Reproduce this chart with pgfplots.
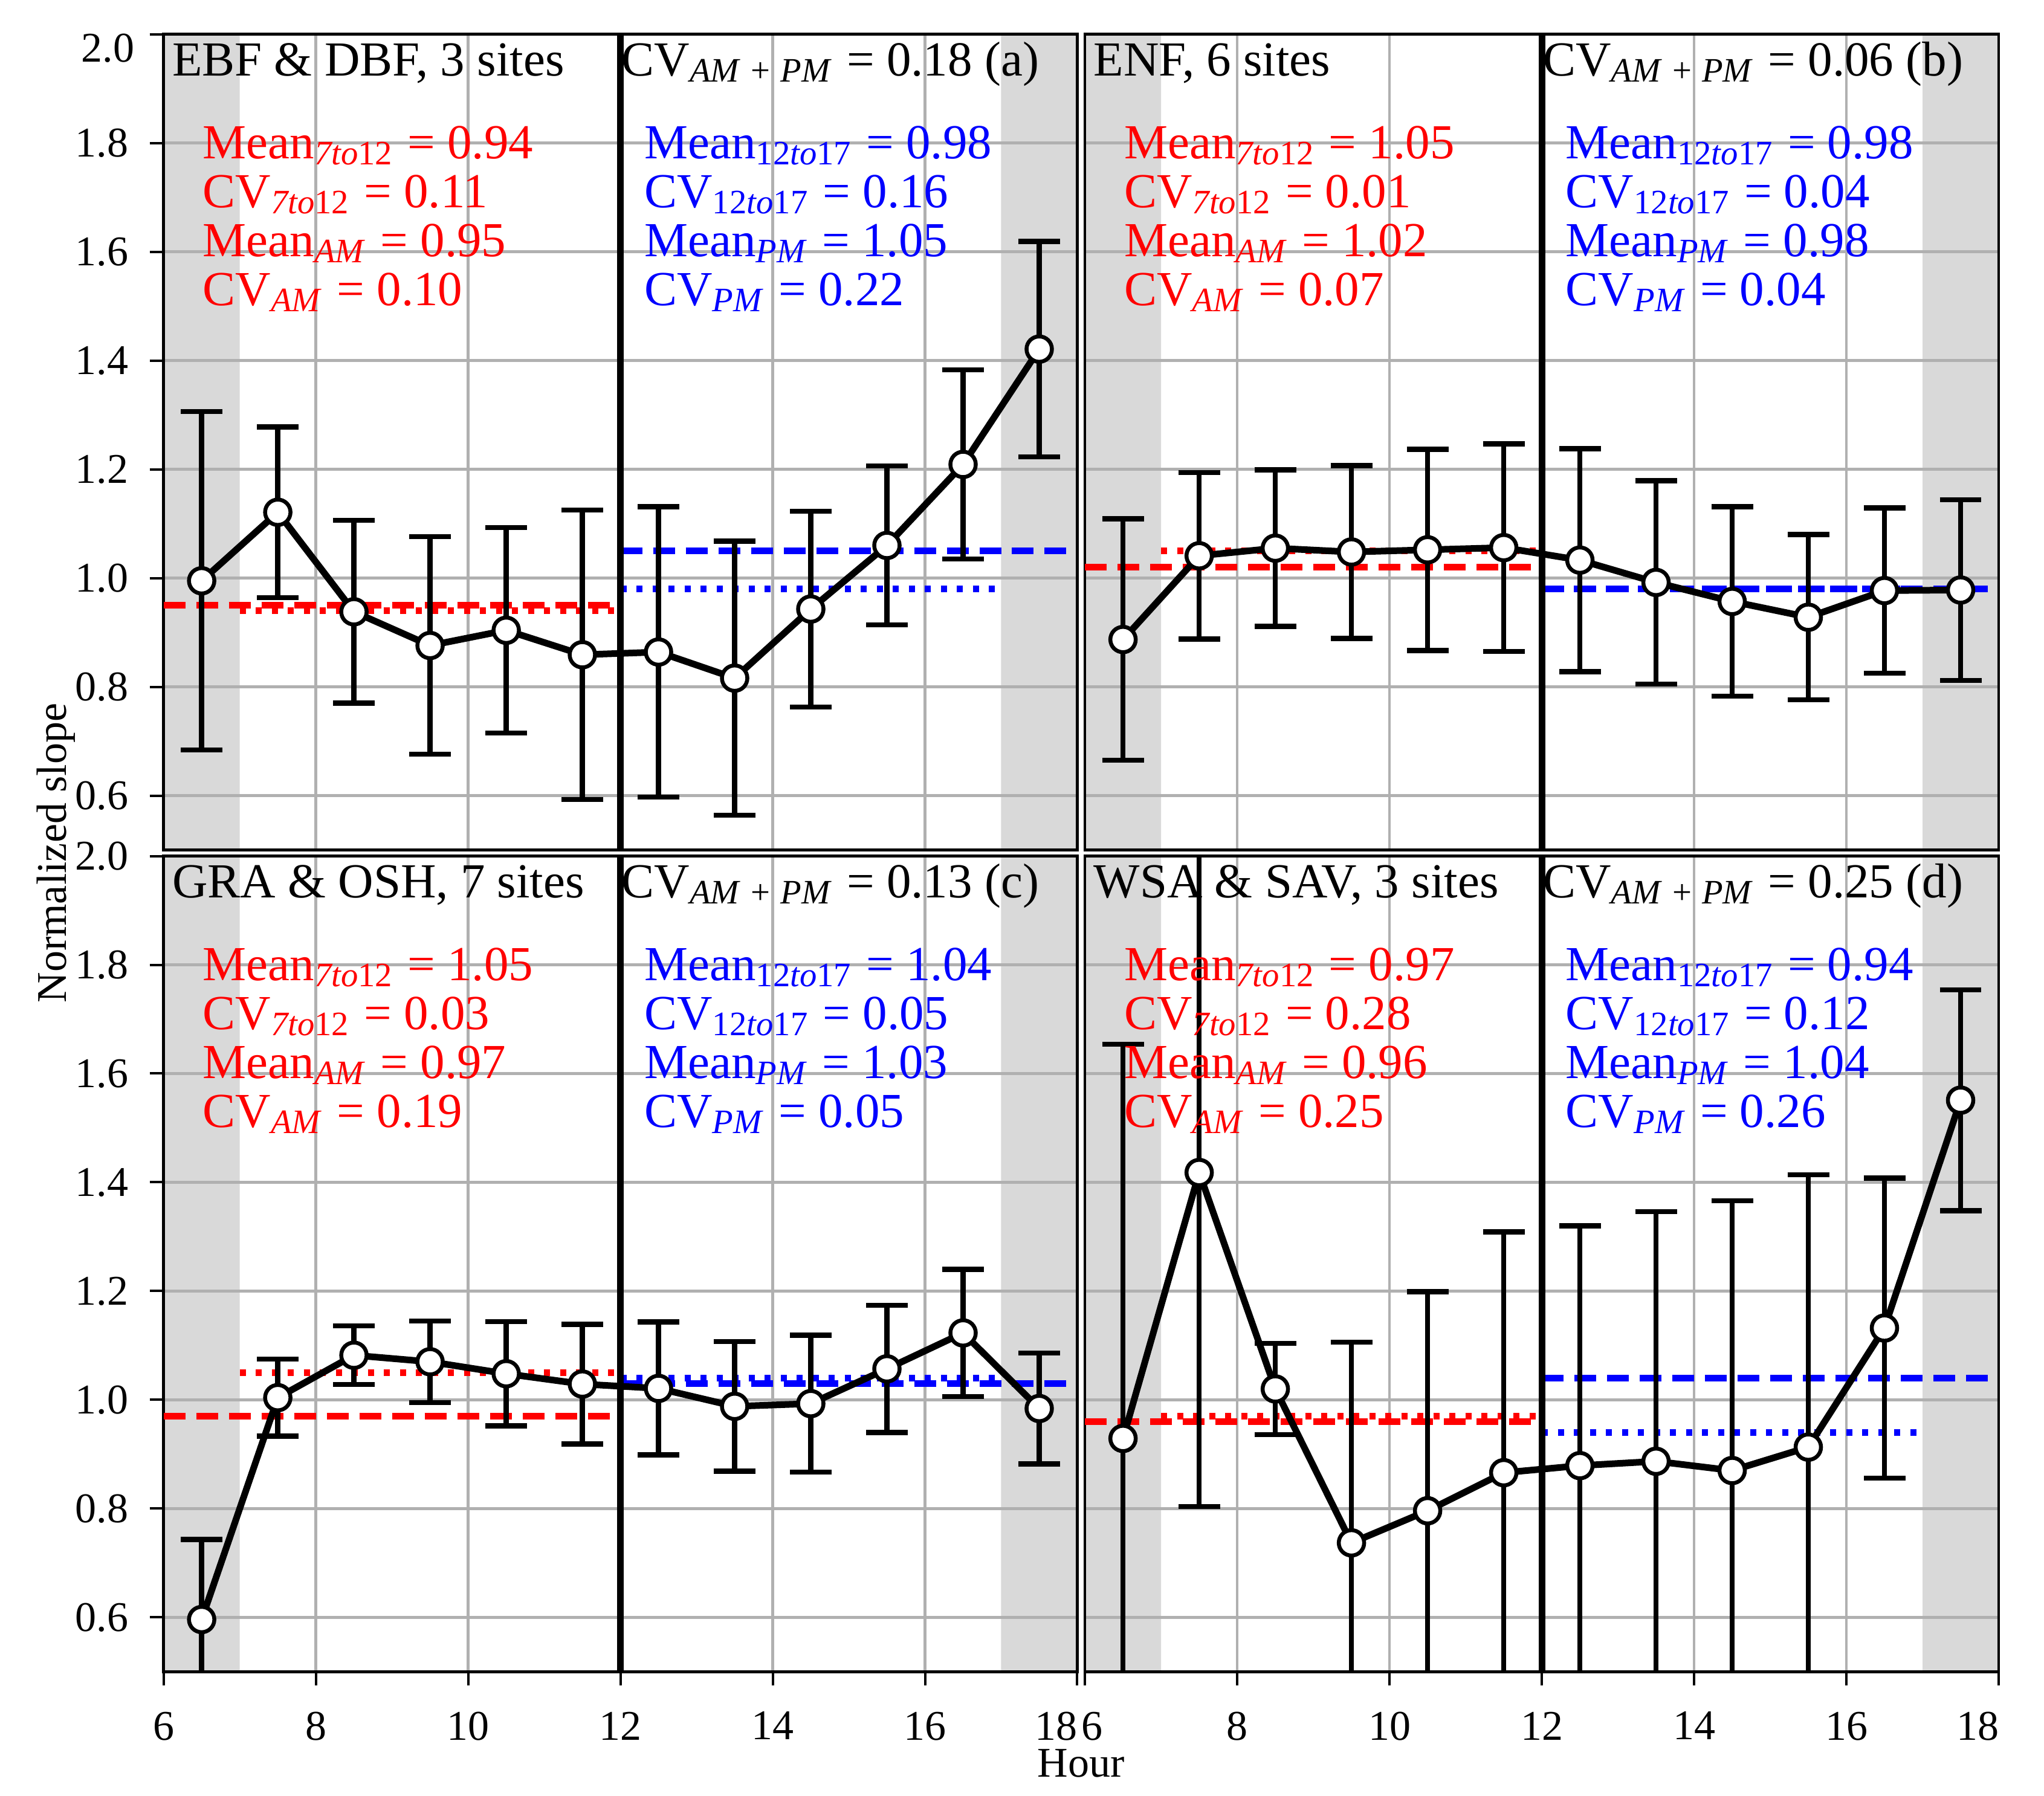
\documentclass[border=0pt]{standalone}
\usepackage{fontspec}
\setmainfont{Liberation Serif}
\usepackage{pgfplots}
\usepackage{pgfplotstable}
\pgfplotsset{compat=1.18}
\usepgfplotslibrary{groupplots}

\definecolor{gridgray}{RGB}{176,176,176}
\definecolor{shade}{RGB}{217,217,217}

\newcommand{\ft}{\fontsize{8.1}{9.7}\selectfont}
\newcommand{\tk}{\fontsize{7}{8.4}\selectfont}
\newcommand{\sub}[1]{\textsubscript{#1}}

% hour, normalized slope, error
\pgfplotstableread{
h v e
6.5 0.995 0.311
7.5 1.121 0.157
8.5 0.938 0.168
9.5 0.876 0.200
10.5 0.904 0.189
11.5 0.859 0.266
12.5 0.864 0.267
13.5 0.816 0.252
14.5 0.943 0.180
15.5 1.060 0.146
16.5 1.209 0.174
17.5 1.421 0.198
}\dataA
\pgfplotstableread{
h v e
6.5 0.887 0.222
7.5 1.041 0.153
8.5 1.055 0.144
9.5 1.048 0.159
10.5 1.052 0.185
11.5 1.056 0.191
12.5 1.033 0.205
13.5 0.992 0.187
14.5 0.957 0.174
15.5 0.928 0.152
16.5 0.977 0.152
17.5 0.978 0.166
}\dataB
\pgfplotstableread{
h v e
6.5 0.596 0.147
7.5 1.004 0.071
8.5 1.082 0.054
9.5 1.070 0.075
10.5 1.048 0.096
11.5 1.029 0.110
12.5 1.021 0.122
13.5 0.988 0.119
14.5 0.993 0.126
15.5 1.057 0.117
16.5 1.123 0.117
17.5 0.984 0.102
}\dataC
\pgfplotstableread{
h v e
6.5 0.929 0.725
7.5 1.418 0.614
8.5 1.020 0.084
9.5 0.737 0.369
10.5 0.796 0.403
11.5 0.866 0.443
12.5 0.879 0.441
13.5 0.887 0.459
14.5 0.870 0.496
15.5 0.913 0.501
16.5 1.132 0.276
17.5 1.551 0.203
}\dataD

% grey bands before 7h and after 17h
\newcommand{\panelbase}{%
  \addplot[fill=shade, draw=none, on layer=axis background] coordinates {(6,0.5) (7,0.5) (7,2) (6,2) (6,0.5)};
  \addplot[fill=shade, draw=none, on layer=axis background] coordinates {(17,0.5) (18,0.5) (18,2) (17,2) (17,0.5)};
}
% mean lines: AM dashed, 7to12 dotted, PM dashed, 12to17 dotted, then the noon line
\newcommand{\means}[4]{%
  \addplot[red, line width=1.05pt, dash pattern=on 3.6pt off 1.8pt] coordinates {(6,#1) (12,#1)};
  \addplot[red, line width=1.05pt, dash pattern=on 1pt off 1.65pt] coordinates {(7,#2) (12,#2)};
  \addplot[blue, line width=1.05pt, dash pattern=on 3.6pt off 1.8pt] coordinates {(12,#3) (18,#3)};
  \addplot[blue, line width=1.05pt, dash pattern=on 1pt off 1.65pt] coordinates {(12,#4) (17,#4)};
  \addplot[black, line width=1.1pt] coordinates {(12,0.5) (12,2)};
}
\newcommand{\curve}[1]{%
  \addplot[black, line width=1.1pt, mark=*, mark size=2.1pt,
    mark options={fill=white, draw=black, line width=0.65pt},
    error bars/.cd, y dir=both, y explicit,
    error bar style={line width=0.85pt, black},
    error mark options={rotate=90, mark size=3.45pt, line width=0.85pt, black}]
    table[x=h, y=v, y error=e] {#1};
}
\newcommand{\heads}[2]{%
  \node[anchor=base west, inner sep=0pt, font=\ft] at (axis cs:6.1,1.923) {#1};
  \node[anchor=base west, inner sep=0pt, font=\ft] at (axis cs:12,1.923) {CV\sub{\textit{AM}\hspace{1.7pt}+\hspace{1.7pt}\textit{PM}} = #2};
}
\newcommand{\redblock}[4]{%
  \node[anchor=base west, inner sep=0pt, font=\ft, text=red] at (axis cs:6.5,1.771) {Mean\sub{\textit{7to}12} = #1};
  \node[anchor=base west, inner sep=0pt, font=\ft, text=red] at (axis cs:6.5,1.681) {CV\sub{\textit{7to}12} = #2};
  \node[anchor=base west, inner sep=0pt, font=\ft, text=red] at (axis cs:6.5,1.591) {Mean\sub{\textit{AM}} = #3};
  \node[anchor=base west, inner sep=0pt, font=\ft, text=red] at (axis cs:6.5,1.501) {CV\sub{\textit{AM}} = #4};
}
\newcommand{\blueblock}[4]{%
  \node[anchor=base west, inner sep=0pt, font=\ft, text=blue] at (axis cs:12.3,1.771) {Mean\sub{12\textit{to}17} = #1};
  \node[anchor=base west, inner sep=0pt, font=\ft, text=blue] at (axis cs:12.3,1.681) {CV\sub{12\textit{to}17} = #2};
  \node[anchor=base west, inner sep=0pt, font=\ft, text=blue] at (axis cs:12.3,1.591) {Mean\sub{\textit{PM}} = #3};
  \node[anchor=base west, inner sep=0pt, font=\ft, text=blue] at (axis cs:12.3,1.501) {CV\sub{\textit{PM}} = #4};
}

\begin{document}
\begin{tikzpicture}
\begin{groupplot}[
  group style={group size=2 by 2, horizontal sep=1.27pt, vertical sep=1pt,
    xticklabels at=edge bottom, yticklabels at=edge left},
  scale only axis, width=151.2pt, height=135pt,
  xmin=6, xmax=18, ymin=0.5, ymax=2,
  xtick={6,8,10,12,14,16,18},
  ytick={0.6,0.8,1.0,1.2,1.4,1.6,1.8,2.0},
  tick align=outside, xtick pos=left, ytick pos=left,
  major tick length=2.3pt,
  tick style={line width=0.4pt, black},
  grid=major, major grid style={line width=0.45pt, gridgray},
  axis line style={line width=0.45pt},
  set layers,
  tick label style={font=\tk},
  /pgf/number format/assume math mode=true,
  yticklabel style={/pgf/number format/.cd, fixed, fixed zerofill, precision=1},
  xticklabel style={yshift=-0.8pt},
]
\nextgroupplot[xtick style={draw=none}, yticklabels={0.6,0.8,1.0,1.2,1.4,1.6,1.8,{}}]
  \panelbase
  \means{0.95}{0.94}{1.05}{0.98}
  \curve{\dataA}
  \heads{EBF \& DBF, 3 sites}{0.18 (a)}
  \redblock{0.94}{0.11}{0.95}{0.10}
  \blueblock{0.98}{0.16}{1.05}{0.22}

\nextgroupplot[xtick style={draw=none}, ytick style={draw=none}]
  \panelbase
  \means{1.02}{1.05}{0.98}{0.98}
  \curve{\dataB}
  \heads{ENF, 6 sites}{0.06 (b)}
  \redblock{1.05}{0.01}{1.02}{0.07}
  \blueblock{0.98}{0.04}{0.98}{0.04}

\nextgroupplot[xticklabels={6,8,10,12,14,16,\llap{18}}]
  \panelbase
  \means{0.97}{1.05}{1.03}{1.04}
  \curve{\dataC}
  \heads{GRA \& OSH, 7 sites}{0.13 (c)}
  \redblock{1.05}{0.03}{0.97}{0.19}
  \blueblock{1.04}{0.05}{1.03}{0.05}

\nextgroupplot[ytick style={draw=none}, xticklabels={\rlap{\kern-0.6pt 6},8,10,12,14,16,\llap{18}}]
  \panelbase
  \means{0.96}{0.97}{1.04}{0.94}
  \curve{\dataD}
  \heads{WSA \& SAV, 3 sites}{0.25 (d)}
  \redblock{0.97}{0.28}{0.96}{0.25}
  \blueblock{0.94}{0.12}{1.04}{0.26}
\end{groupplot}

\node[anchor=east, inner sep=0pt, font=\tk] at ([xshift=-4.63pt, yshift=-2.3pt]group c1r1.north west) {2.0};
\node[rotate=90, anchor=base, inner sep=0pt, font=\tk] at ([xshift=-16.07pt, yshift=-0.5pt]group c1r1.south west) {Normalized slope};
\node[anchor=base, inner sep=0pt, font=\tk] at ([xshift=0.635pt, yshift=-17.4pt]group c1r2.south east) {Hour};

\pgfresetboundingbox
\path[use as bounding box] ([xshift=-27.07pt, yshift=-20.53pt]group c1r2.south west) rectangle ([xshift=7.5pt, yshift=5.67pt]group c2r1.north east);
\end{tikzpicture}
\end{document}
